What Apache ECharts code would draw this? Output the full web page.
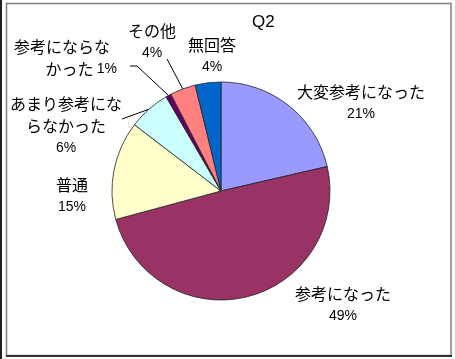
<!DOCTYPE html>
<html>
<head>
<meta charset="utf-8">
<script src="https://cdn.jsdelivr.net/npm/echarts@6/dist/echarts.min.js"></script>
<style>
html,body{margin:0;padding:0;background:#fff;}
#c{width:455px;height:359px;}
</style>
</head>
<body>
<div id="c"></div>
<script>
const title = 'Q2';
const categories = ['大変参考になった', '参考になった', '普通', 'あまり参考にならなかった', '参考にならなかった', 'その他', '無回答'];
const values = [21.4, 49.4, 14.6, 6.2, 0.8, 3.8, 3.8];
const colors = ['#9999FF', '#993366', '#FFFFCC', '#CCFFFF', '#660066', '#FF8080', '#0066CC'];
const wrappedNames = ['大変参考になった', '参考になった', '普通', 'あまり参考にな\nらなかった', '参考にならな\nかった', 'その他', '無回答'];
const labelSpots = [
  {x: 361, y: 103, align: 'center'},
  {x: 343, y: 305, align: 'center'},
  {x: 72, y: 196, align: 'center'},
  {x: 66, y: 126, align: 'center'},
  {x: 117, y: 58, align: 'right'},
  {x: 152, y: 42, align: 'center'},
  {x: 212, y: 56, align: 'center'}
];
const leaders = [null, null, null,
  {end: [56, -7]},
  {end: [13, 8], bend: [20, 8]},
  {end: [15, 17]},
  null];

const chart = echarts.init(document.getElementById('c'), null, {renderer: 'canvas'});
chart.setOption({
  backgroundColor: '#fff',
  animation: false,
  title: {
    text: title, left: 247, top: 9,
    textStyle: {fontFamily: 'Liberation Sans', fontSize: 17, fontWeight: 'normal', color: '#000'}
  },
  graphic: [
    {type: 'rect', shape: {x: 0, y: 0, width: 2, height: 359}, style: {fill: '#222'}, silent: true},
    {type: 'rect', shape: {x: 6.5, y: 3.5, width: 444.5, height: 352}, style: {fill: 'none', stroke: '#808080', lineWidth: 1.5}, silent: true},
    {type: 'line', shape: {x1: 6, y1: 356, x2: 452, y2: 356}, style: {stroke: '#333', lineWidth: 2}, silent: true}
  ],
  series: [{
    type: 'pie',
    center: [221, 191],
    radius: 109,
    startAngle: 90,
    clockwise: true,
    percentPrecision: 0,
    avoidLabelOverlap: false,
    itemStyle: {borderColor: '#222', borderWidth: 0.8},
    emphasis: {disabled: true},
    label: {
      show: true,
      position: 'outside',
      color: '#000',
      formatter: function (p) {
        const lines = wrappedNames[p.dataIndex].split('\n');
        if (p.dataIndex === 4) {
          return '{m|' + lines[0] + '}\n{n|' + lines[1] + '} {p|' + p.percent + '%}';
        }
        return lines.map(function (t) { return '{n|' + t + '}'; }).join('\n') + '\n{p|' + p.percent + '%}';
      },
      rich: {
        n: {fontFamily: 'Noto Sans CJK JP', fontSize: 16, lineHeight: 22, color: '#000'},
        m: {fontFamily: 'Noto Sans CJK JP', fontSize: 16, lineHeight: 22, color: '#000', padding: [0, 7, 0, 0]},
        p: {fontFamily: 'Liberation Sans', fontSize: 14, lineHeight: 22, color: '#000'}
      }
    },
    labelLine: {show: true, length: 10, length2: 6, smooth: false, lineStyle: {color: '#000', width: 1}},
    labelLayout: function (params) {
      const i = params.dataIndex;
      const s = labelSpots[i];
      const out = {x: s.x, y: s.y, align: s.align, verticalAlign: 'middle'};
      const L = leaders[i];
      if (L && params.labelLinePoints) {
        const a = params.labelLinePoints[0];
        const end = [s.x + L.end[0], s.y + L.end[1]];
        const mid = L.bend ? [s.x + L.bend[0], s.y + L.bend[1]] : [(a[0] + end[0]) / 2, (a[1] + end[1]) / 2];
        out.labelLinePoints = [[a[0], a[1]], mid, end];
      }
      return out;
    },
    data: categories.map(function (name, i) {
      return {
        name: name,
        value: values[i],
        itemStyle: {color: colors[i]},
        labelLine: {show: leaders[i] !== null}
      };
    })
  }]
});
</script>
</body>
</html>
